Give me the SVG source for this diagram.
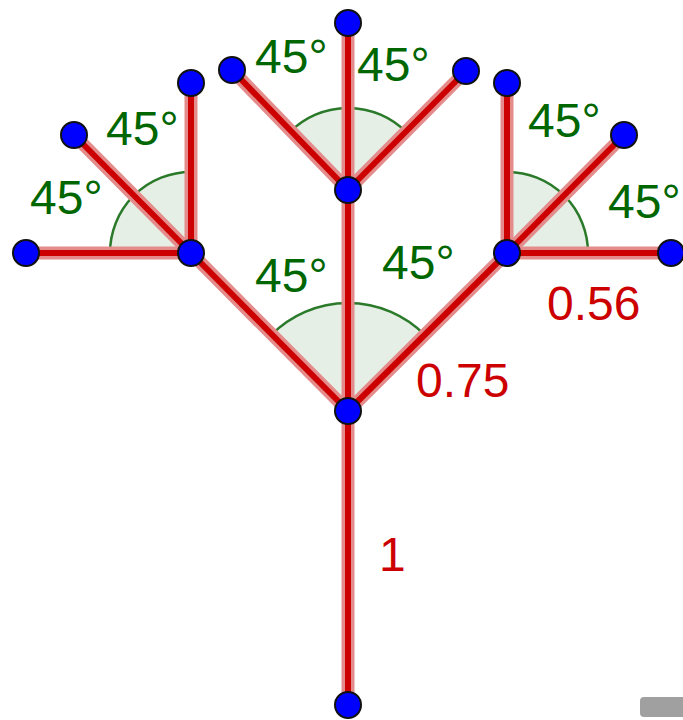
<svg xmlns="http://www.w3.org/2000/svg" width="683" height="720" viewBox="0 0 683 720">
<style>
.sector{fill:#e6efe6;stroke:none}
.arc{fill:none;stroke:#2a7a2a;stroke-width:2.5}
.edge-o{stroke:#e48c8c;stroke-width:13;stroke-linecap:butt}
.edge-i{stroke:#cc0000;stroke-width:6;stroke-linecap:butt}
.node{fill:#0000ff;stroke:#111;stroke-width:2}
.ang{font-family:"Liberation Sans",Arial,sans-serif;font-size:48px;fill:#006600}
.len{font-family:"Liberation Sans",Arial,sans-serif;font-size:48px;fill:#cc0000}
</style>
<g id="angles">
<path class="sector" d="M348,411 L271.6,334.6 A108,108 0 0 1 424.4,334.6 Z"/>
<path class="arc" d="M271.6,334.6 A108,108 0 0 1 424.4,334.6"/>
<path class="sector" d="M348,190 L290,132 A82,82 0 0 1 406,132 Z"/>
<path class="arc" d="M290,132 A82,82 0 0 1 406,132"/>
<path class="sector" d="M191,253 L110,253 A81,81 0 0 1 191,172 Z"/>
<path class="arc" d="M110,253 A81,81 0 0 1 191,172"/>
<path class="sector" d="M507,253 L507,172 A81,81 0 0 1 588,253 Z"/>
<path class="arc" d="M507,172 A81,81 0 0 1 588,253"/>
</g>
<g id="connectors">
<g class="edge-o">
<line x1="348" y1="705" x2="348" y2="411"/>
<line x1="348" y1="411" x2="191" y2="253"/>
<line x1="348" y1="411" x2="507" y2="253"/>
<line x1="348" y1="411" x2="348" y2="190"/>
<line x1="348" y1="190" x2="348" y2="23"/>
<line x1="348" y1="190" x2="232" y2="70"/>
<line x1="348" y1="190" x2="466" y2="71"/>
<line x1="191" y1="253" x2="26" y2="253"/>
<line x1="191" y1="253" x2="74" y2="135"/>
<line x1="191" y1="253" x2="191" y2="83"/>
<line x1="507" y1="253" x2="507" y2="83"/>
<line x1="507" y1="253" x2="624" y2="135"/>
<line x1="507" y1="253" x2="671" y2="253"/>
</g>
<g class="edge-i">
<line x1="348" y1="705" x2="348" y2="411"/>
<line x1="348" y1="411" x2="191" y2="253"/>
<line x1="348" y1="411" x2="507" y2="253"/>
<line x1="348" y1="411" x2="348" y2="190"/>
<line x1="348" y1="190" x2="348" y2="23"/>
<line x1="348" y1="190" x2="232" y2="70"/>
<line x1="348" y1="190" x2="466" y2="71"/>
<line x1="191" y1="253" x2="26" y2="253"/>
<line x1="191" y1="253" x2="74" y2="135"/>
<line x1="191" y1="253" x2="191" y2="83"/>
<line x1="507" y1="253" x2="507" y2="83"/>
<line x1="507" y1="253" x2="624" y2="135"/>
<line x1="507" y1="253" x2="671" y2="253"/>
</g>
</g>
<g id="n-root"><circle class="node" cx="348" cy="705" r="13"/></g>
<g id="n-trunk"><circle class="node" cx="348" cy="411" r="13"/></g>
<g id="n-left"><circle class="node" cx="191" cy="253" r="13"/></g>
<g id="n-right"><circle class="node" cx="507" cy="253" r="13"/></g>
<g id="n-center"><circle class="node" cx="348" cy="190" r="13"/></g>
<g id="n-top"><circle class="node" cx="348" cy="23" r="13"/></g>
<g id="n-cl"><circle class="node" cx="232" cy="70" r="13"/></g>
<g id="n-cr"><circle class="node" cx="466" cy="71" r="13"/></g>
<g id="n-ll"><circle class="node" cx="26" cy="253" r="13"/></g>
<g id="n-lul"><circle class="node" cx="74" cy="135" r="13"/></g>
<g id="n-lu"><circle class="node" cx="191" cy="83" r="13"/></g>
<g id="n-ru"><circle class="node" cx="507" cy="83" r="13"/></g>
<g id="n-rur"><circle class="node" cx="624" cy="135" r="13"/></g>
<g id="n-rr"><circle class="node" cx="671" cy="253" r="13"/></g>
<g id="labels">
<text class="ang" x="30" y="214">45°</text>
<text class="ang" x="106" y="145">45°</text>
<text class="ang" x="255" y="73">45°</text>
<text class="ang" x="357" y="81">45°</text>
<text class="ang" x="255" y="292">45°</text>
<text class="ang" x="382" y="279">45°</text>
<text class="ang" x="528" y="137">45°</text>
<text class="ang" x="608" y="218">45°</text>
<text class="len" x="547" y="320">0.56</text>
<text class="len" x="416" y="397">0.75</text>
<text class="len" x="379" y="571">1</text>
</g>
<rect x="640" y="697" width="50" height="20" rx="4" fill="#a0a0a0"/>
</svg>
